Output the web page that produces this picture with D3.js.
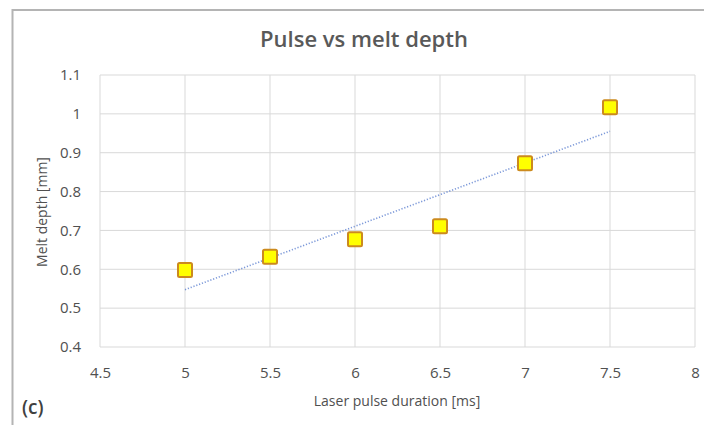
<!DOCTYPE html>
<html>
<head>
<meta charset="utf-8">
<script src="https://cdn.jsdelivr.net/npm/d3@7"></script>
<style>
  html, body { margin: 0; padding: 0; background: #fff; }
  svg { display: block; font-family: "Open Sans", "Noto Sans", sans-serif; }
</style>
</head>
<body>
<svg id="chart" width="704" height="425"></svg>
<script>
// Melt depth measured for each laser pulse duration
const pulseDuration = [5, 5.5, 6, 6.5, 7, 7.5];
const meltDepth = [0.598, 0.632, 0.677, 0.711, 0.873, 1.017];
const xTicks = [4.5, 5, 5.5, 6, 6.5, 7, 7.5, 8];
const yTicks = [0.4, 0.5, 0.6, 0.7, 0.8, 0.9, 1, 1.1];

const svg = d3.select("#chart");
const W = 704, H = 425;
const plot = { left: 100, right: 695, top: 75, bottom: 347 };
const textColor = "#595959";

// outer chart frame (runs off the right and bottom edges)
svg.append("rect")
  .attr("x", 12.5).attr("y", 10)
  .attr("width", W + 20).attr("height", H + 20)
  .attr("fill", "#fff").attr("stroke", "#b4b4b4").attr("stroke-width", 2);

const x = d3.scaleLinear().domain([4.5, 8]).range([plot.left, plot.right]);
const y = d3.scaleLinear().domain([0.4, 1.1]).range([plot.bottom, plot.top]);

// gridlines
const grid = svg.append("g");
grid.selectAll(".gx").data(xTicks).join("line")
  .attr("x1", d => x(d)).attr("x2", d => x(d))
  .attr("y1", plot.top).attr("y2", plot.bottom)
  .attr("stroke", "#d9d9d9").attr("stroke-width", 1);
grid.selectAll(".gy").data(yTicks).join("line")
  .attr("x1", plot.left).attr("x2", plot.right)
  .attr("y1", d => y(d)).attr("y2", d => y(d))
  .attr("stroke", "#d9d9d9").attr("stroke-width", 1);

// axes (labels only, no domain lines)
const fmt = d => String(d);
const xAxis = svg.append("g")
  .attr("transform", `translate(0,${plot.bottom + 17})`)
  .call(d3.axisBottom(x).tickValues(xTicks).tickFormat(fmt).tickSize(0));
const yAxis = svg.append("g")
  .attr("transform", `translate(${plot.left - 16},0)`)
  .call(d3.axisLeft(y).tickValues(yTicks).tickFormat(fmt).tickSize(0));
[xAxis, yAxis].forEach(a => {
  a.select(".domain").remove();
  a.selectAll("text")
    .attr("fill", "#505050")
    .style("font-size", "15px")
    .style("font-family", "'Open Sans', sans-serif");
});

// linear trendline (least squares)
const n = pulseDuration.length;
const mx = d3.mean(pulseDuration), my = d3.mean(meltDepth);
let sxy = 0, sxx = 0;
for (let i = 0; i < n; i++) {
  sxy += (pulseDuration[i] - mx) * (meltDepth[i] - my);
  sxx += (pulseDuration[i] - mx) ** 2;
}
const slope = sxy / sxx, intercept = my - slope * mx;
const xMin = d3.min(pulseDuration), xMax = d3.max(pulseDuration);
svg.append("line")
  .attr("x1", x(xMin)).attr("y1", y(intercept + slope * xMin))
  .attr("x2", x(xMax)).attr("y2", y(intercept + slope * xMax))
  .attr("stroke", "#5b7fd0").attr("stroke-width", 1.6)
  .attr("stroke-dasharray", "1.2,1.8").attr("opacity", 0.8);

// square markers
const s = 14;
svg.append("g").selectAll("rect")
  .data(pulseDuration.map((d, i) => [d, meltDepth[i]]))
  .join("rect")
  .attr("x", d => x(d[0]) - s / 2)
  .attr("y", d => y(d[1]) - s / 2)
  .attr("width", s).attr("height", s)
  .attr("rx", 1.5)
  .attr("fill", "#ffff00")
  .attr("stroke", "#cc8a1e").attr("stroke-width", 2);

// title
svg.append("text")
  .attr("x", 364).attr("y", 47)
  .attr("text-anchor", "middle")
  .attr("fill", textColor)
  .style("font-size", "22px").style("font-weight", 600)
  .text("Pulse vs melt depth");

// axis titles
svg.append("text")
  .attr("x", 397).attr("y", 406)
  .attr("text-anchor", "middle")
  .attr("fill", "#505050")
  .style("font-size", "14px")
  .text("Laser pulse duration [ms]");
svg.append("text")
  .attr("transform", "translate(47,212) rotate(-90)")
  .attr("text-anchor", "middle")
  .attr("fill", "#505050")
  .style("font-size", "14px")
  .text("Melt depth [mm]");

// panel label
svg.append("text")
  .attr("x", 22).attr("y", 414)
  .attr("fill", "#404040")
  .style("font-size", "19px").style("font-weight", 600)
  .text("(c)");
</script>
</body>
</html>
